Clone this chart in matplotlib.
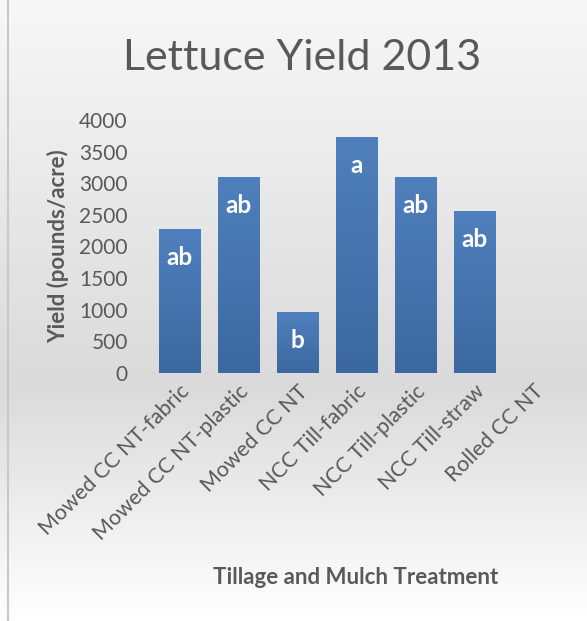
import matplotlib.pyplot as plt
import numpy as np
from matplotlib.colors import LinearSegmentedColormap

treatments = ['Mowed CC NT-fabric', 'Mowed CC NT-plastic', 'Mowed CC NT',
              'NCC Till-fabric', 'NCC Till-plastic', 'NCC Till-straw', 'Rolled CC NT']
yields = [2280, 3100, 960, 3730, 3100, 2560, 0]
letters = ['ab', 'ab', 'b', 'a', 'ab', 'ab', '']

plt.rcParams['font.family'] = ['Lato', 'DejaVu Sans']
grey = '#595959'

fig = plt.figure(figsize=(5.87, 6.21), dpi=100)

# background gradient of the chart area
bg = fig.add_axes([0, 0, 1, 1], zorder=-10)
bg.set_axis_off()
rows = np.linspace(0, 1, 256)
shade = np.interp(rows, [0, 0.62, 1.0], [0.97, 0.855, 1.0])
img = np.repeat(shade[:, None, None], 3, axis=2)
bg.imshow(img, aspect='auto', extent=[0, 1, 1, 0])
bg.set_xlim(0, 1)
bg.set_ylim(1, 0)
bg.plot([8 / 587, 8 / 587], [0, 1], color='#c8c8c8', lw=1.5)

ax = fig.add_axes([150 / 587, 1 - 373 / 621, 413 / 587, 253 / 621])
ax.patch.set_alpha(0)
x = np.arange(len(treatments))
bars = ax.bar(x, yields, width=0.71, color='#4676b4')

bar_cmap = LinearSegmentedColormap.from_list('b', ['#3b68a0', '#4f80bd'])
grad = np.linspace(0, 1, 100).reshape(-1, 1)
for b in bars:
    if b.get_height() <= 0:
        continue
    im = ax.imshow(grad, cmap=bar_cmap, aspect='auto', origin='lower',
                   extent=[b.get_x(), b.get_x() + b.get_width(), 0, b.get_height()],
                   zorder=2)
    im.set_clip_path(b)

for xi, h, t in zip(x, yields, letters):
    if t:
        ax.annotate(t, (xi, h), xytext=(0, -26), textcoords='offset points',
                    ha='center', va='baseline', color='white',
                    fontsize=17.5, fontweight='bold', zorder=3)

ax.set_xlim(-0.5, len(treatments) - 0.5)
ax.set_ylim(0, 4000)
ax.set_yticks(np.arange(0, 4001, 500))
ax.set_xticks(x)
ax.set_xticklabels(treatments, rotation=45, ha='right', rotation_mode='anchor',
                   fontsize=15.5, color=grey)
for s in ax.spines.values():
    s.set_visible(False)
ax.tick_params(axis='both', length=0, colors=grey)
ax.tick_params(axis='y', pad=16, labelsize=15)
ax.tick_params(axis='x', pad=6)

fig.text(302 / 587, 1 - 58 / 621, 'Lettuce Yield 2013', ha='center', va='center',
         fontsize=31, color=grey)
fig.text(58 / 587, 1 - 246 / 621, 'Yield (pounds/acre)', ha='center', va='center',
         rotation=90, fontsize=16, fontweight='bold', color=grey)
fig.text(356 / 587, 1 - 578 / 621, 'Tillage and Mulch Treatment', ha='center',
         va='center', fontsize=16, fontweight='bold', color=grey)

fig.savefig('out.png', dpi=100)
